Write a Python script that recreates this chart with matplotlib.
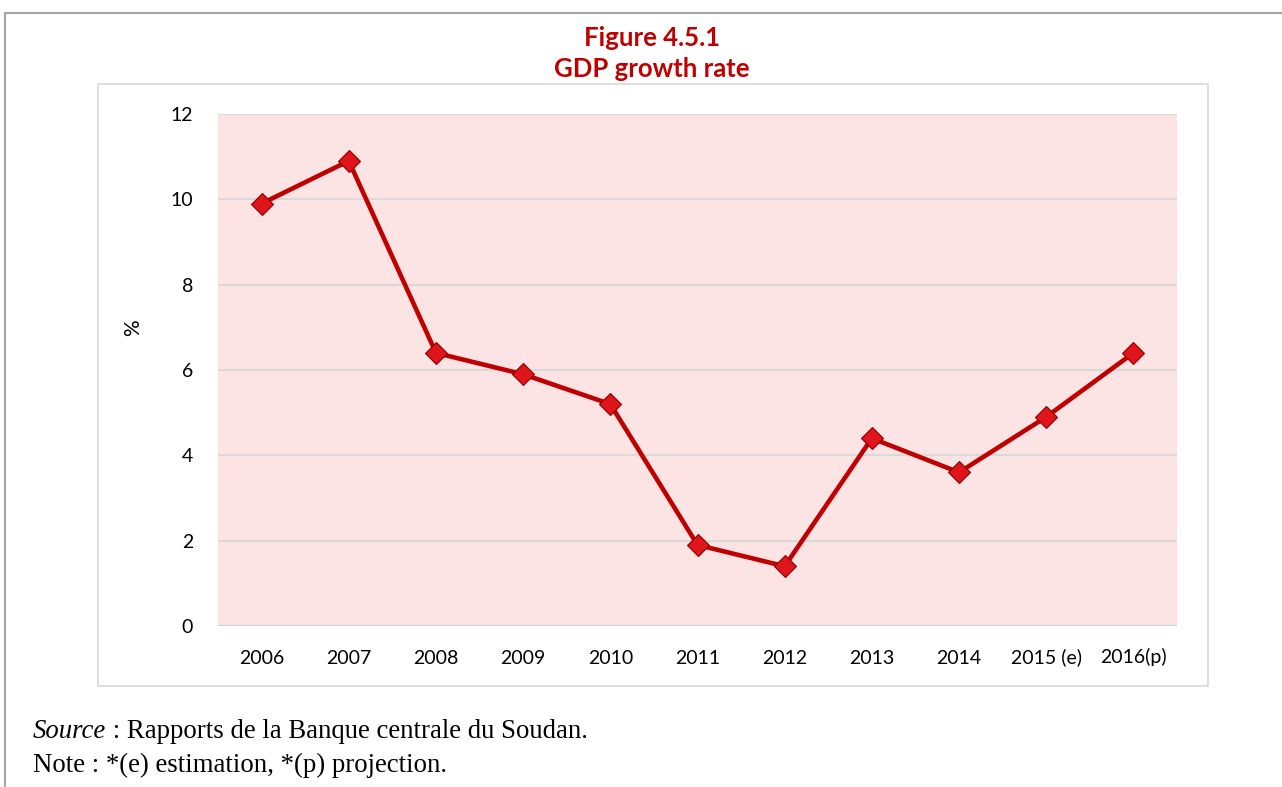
import matplotlib.pyplot as plt
from matplotlib.patches import Rectangle
from matplotlib.lines import Line2D

categories = ["2006", "2007", "2008", "2009", "2010", "2011", "2012", "2013", "2014", "2015 (e)", "2016(p)"]
growth = [9.9, 10.9, 6.4, 5.9, 5.2, 1.9, 1.4, 4.4, 3.6, 4.9, 6.4]
yticks = [0, 2, 4, 6, 8, 10, 12]

W, H = 1282, 787
fig = plt.figure(figsize=(W / 100, H / 100), dpi=100)
fig.patch.set_facecolor("white")

# outer frame lines (top and left)
fig.add_artist(Line2D([5 / W, 1.0], [1 - 13 / H, 1 - 13 / H], color="#a6a6a6", lw=1.5, zorder=-2))
fig.add_artist(Line2D([5 / W, 5 / W], [0, 1 - 13 / H], color="#a6a6a6", lw=1.5, zorder=-2))

# chart box
fig.add_artist(Rectangle((98 / W, 1 - 686 / H), (1208 - 98) / W, (686 - 84) / H,
                         transform=fig.transFigure, facecolor="white",
                         edgecolor="#d9d9d9", lw=1.2, zorder=-1))

x0, x1 = 218, 1177
y0, y1 = 626, 114
ax = fig.add_axes([x0 / W, 1 - y0 / H, (x1 - x0) / W, (y0 - y1) / H])
ax.set_zorder(2)
ax.set_facecolor("#fde4e4")
ax.set_xlim(-0.5, len(categories) - 0.5)
ax.set_ylim(0, 12)
ax.set_yticks(yticks)
ax.set_yticklabels([str(v) for v in yticks], fontsize=14, family="Lato")
ax.set_xticks(range(len(categories)))
ax.set_xticklabels(categories, fontsize=14, family="Lato")
for lab in ax.get_xticklabels():
    lab.set_verticalalignment("baseline")
ax.tick_params(length=0)
ax.tick_params(axis="y", pad=18)
ax.tick_params(axis="x", pad=27)
for s in ax.spines.values():
    s.set_visible(False)
ax.grid(axis="y", color="#d9d9d9", lw=1.5)
ax.set_axisbelow(True)
ax.axhline(0, color="#d0d0d0", lw=1.5)

ax.plot(range(len(categories)), growth, color="#c00000", lw=3.3,
        marker="D", markersize=11, markerfacecolor="#e0151b",
        markeredgecolor="#8b0000", markeredgewidth=0.8, zorder=3)

fig.text(133 / W, 1 - 328 / H, "%", rotation=90, ha="center", va="center",
         fontsize=15, family="Lato")

fig.text(652 / W, 1 - 38 / H, "Figure 4.5.1", ha="center", va="center",
         fontsize=18.5, fontweight="bold", color="#c00000", family="Lato")
fig.text(652 / W, 1 - 69 / H, "GDP growth rate", ha="center", va="center",
         fontsize=18.5, fontweight="bold", color="#c00000", family="Lato")

fs = 19.3
t1 = fig.text(33 / W, 1 - 732 / H, "Source", ha="left", va="center",
              fontsize=fs, style="italic", family="Liberation Serif")
fig.canvas.draw()
bb = t1.get_window_extent()
fig.text(bb.x1 / W, 1 - 732 / H, " : Rapports de la Banque centrale du Soudan.", ha="left", va="center",
         fontsize=fs, family="Liberation Serif")
fig.text(33 / W, 1 - 765 / H, "Note : *(e) estimation, *(p) projection.", ha="left", va="center",
         fontsize=fs, family="Liberation Serif")

fig.savefig("out.png", dpi=100)
